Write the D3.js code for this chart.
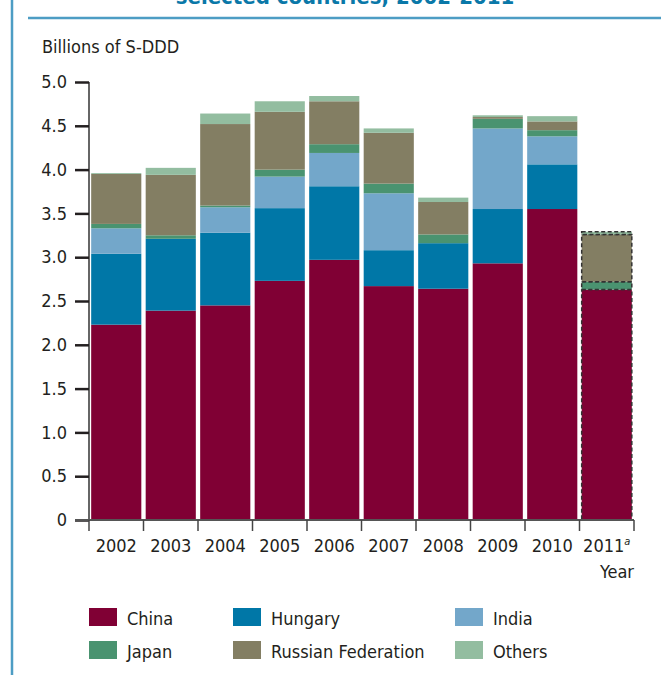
<!DOCTYPE html>
<html>
<head>
<meta charset="utf-8">
<script src="https://cdn.jsdelivr.net/npm/d3@7"></script>
<style>
  body { margin: 0; background: #fff; }
  svg text { font-family: "Liberation Sans Narrow", "DejaVu Sans Condensed", "Roboto", sans-serif; fill: #231f20; }
</style>
</head>
<body>
<svg width="664" height="675"></svg>
<script>
// chart data
const years = ["2002", "2003", "2004", "2005", "2006", "2007", "2008", "2009", "2010", "2011"];
const countries = ["China", "Hungary", "India", "Japan", "Russian Federation", "Others"];
const china   = [2.23, 2.39, 2.45, 2.73, 2.97, 2.67, 2.64, 2.93, 3.55, 2.63];
const hungary = [0.81, 0.82, 0.83, 0.83, 0.84, 0.41, 0.52, 0.62, 0.51, 0];
const india   = [0.29, 0,    0.29, 0.36, 0.38, 0.65, 0,    0.92, 0.32, 0];
const japan   = [0.05, 0.04, 0.02, 0.08, 0.10, 0.11, 0.10, 0.11, 0.07, 0.09];
const russia  = [0.57, 0.69, 0.93, 0.66, 0.49, 0.58, 0.37, 0.02, 0.10, 0.54];
const others  = [0.01, 0.08, 0.12, 0.12, 0.06, 0.05, 0.05, 0.02, 0.06, 0.03];
const yTicks = [0, 0.5, 1.0, 1.5, 2.0, 2.5, 3.0, 3.5, 4.0, 4.5, 5.0];
const colors = ["#800034", "#0077a7", "#73a7ca", "#4a9370", "#837e63", "#93bda0"];

const series = [china, hungary, india, japan, russia, others];
const table = years.map((yr, i) => {
    const row = { year: yr };
    countries.forEach((c, j) => row[c] = series[j][i]);
    return row;
});

const svg = d3.select("svg");

// page frame bits (cut-off title, rules)
svg.append("line").attr("x1", 12).attr("x2", 12).attr("y1", 0).attr("y2", 675)
    .attr("stroke", "#4d9dc4").attr("stroke-width", 2.5);
svg.append("line").attr("x1", 28).attr("x2", 661).attr("y1", 18).attr("y2", 18)
    .attr("stroke", "#4d9dc4").attr("stroke-width", 2.5);
svg.append("text").attr("x", 345).attr("y", 4).attr("text-anchor", "middle")
    .style("font-size", "22px").style("font-weight", "bold").style("fill", "#0a78a8")
    .text("selected countries, 2002-2011");

svg.append("text").attr("x", 42).attr("y", 53).style("font-size", "18px")
    .text("Billions of S-DDD");

const x = d3.scaleBand().domain(years).range([89, 634]).paddingInner(0.08).paddingOuter(0.04);
const y = d3.scaleLinear().domain([0, 5]).range([520, 82]);

const stacked = d3.stack().keys(countries)(table);

// bars
const layer = svg.append("g").selectAll("g")
    .data(stacked)
    .join("g")
      .attr("fill", (d, i) => colors[i]);

layer.selectAll("rect")
    .data(d => d.filter(p => p[1] - p[0] > 0))
    .join("rect")
      .attr("x", d => x(d.data.year))
      .attr("width", x.bandwidth())
      .attr("y", d => y(d[1]))
      .attr("height", d => y(d[0]) - y(d[1]))
      .attr("stroke", d => d.data.year === "2011" ? "#333" : "none")
      .attr("stroke-width", 1.5)
      .attr("stroke-dasharray", "4,2.5");

// y axis
const yAxis = svg.append("g")
    .attr("transform", "translate(89,0)")
    .call(d3.axisLeft(y).tickValues(yTicks).tickSize(14).tickPadding(8)
        .tickFormat(d => d === 0 ? "0" : d3.format(".1f")(d)));
yAxis.select(".domain").attr("stroke", "#666").attr("stroke-width", 2).attr("d", "M0,82V520");
yAxis.selectAll(".tick line").attr("stroke", "#231f20").attr("stroke-width", 2.5);
yAxis.selectAll("text").style("font-size", "18px").style("font-family", null);

// x axis: ticks at band edges, labels centered
const xg = svg.append("g");
xg.append("line").attr("x1", 75).attr("x2", 634).attr("y1", 520).attr("y2", 520)
    .attr("stroke", "#555").attr("stroke-width", 2);
const edges = years.map(d => x(d) + x.bandwidth() / 2 - x.step() / 2);
edges.push(edges[edges.length - 1] + x.step());
xg.selectAll(".xt").data(edges).join("line")
    .attr("x1", d => d).attr("x2", d => d).attr("y1", 520).attr("y2", 531)
    .attr("stroke", "#444").attr("stroke-width", 1.5);
const xl = xg.selectAll(".xl").data(years).join("text")
    .attr("x", d => x(d) + x.bandwidth() / 2)
    .attr("y", 552)
    .attr("text-anchor", "middle")
    .style("font-size", "18px")
    .text(d => d);
xl.filter(d => d === "2011").append("tspan")
    .attr("dy", -7).style("font-size", "11px").style("font-style", "italic").text("a");
svg.append("text").attr("x", 634).attr("y", 578).attr("text-anchor", "end")
    .style("font-size", "18px").text("Year");

// legend
const legX = [89, 233, 455];
const legend = svg.append("g").selectAll("g")
    .data(countries)
    .join("g")
      .attr("transform", (d, i) => `translate(${legX[i % 3]},${608 + Math.floor(i / 3) * 33})`);
legend.append("rect").attr("width", 28).attr("height", 18).attr("fill", (d, i) => colors[i]);
legend.append("text").attr("x", 38).attr("y", 17).style("font-size", "18px").text(d => d);
</script>
</body>
</html>
